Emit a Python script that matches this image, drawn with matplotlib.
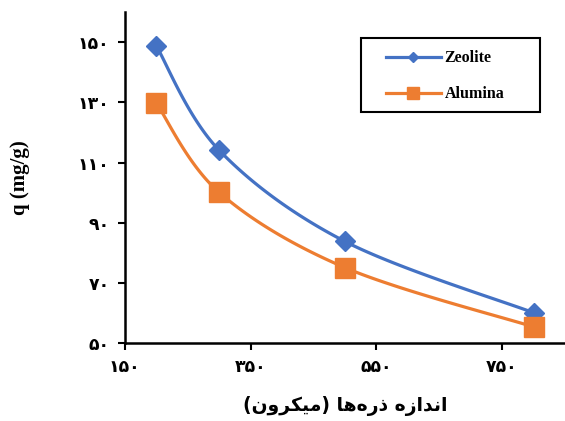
import numpy as np
import matplotlib
matplotlib.use("Agg")
import matplotlib.pyplot as plt
from matplotlib.lines import Line2D
from matplotlib.patches import Rectangle

# particle size (micron) and adsorption capacity q (mg/g)
size = [200, 300, 500, 800]
zeolite = [148.8, 114.1, 83.8, 60.1]
alumina = [129.8, 100.1, 75.1, 55.4]

x_ticks = [150, 350, 550, 750]
y_ticks = [50, 70, 90, 110, 130, 150]

fa_digits = str.maketrans("0123456789", "۰۱۲۳۴۵۶۷۸۹")

def fa(n):
    return str(n).translate(fa_digits)

# "اندازه ذره‌ها (میکرون)" written with presentation forms, visual order
xlabel = ("(" + "\uFEE5\uFEED\uFEAE\uFEDC\uFEF4\uFEE3" + ") "
          + "\uFE8E\uFEEB\uFEE9\uFEAD\uFEAB" + " "
          + "\uFEE9\uFEAF\uFE8D\uFEAA\uFEE7\uFE8D")


def smooth(xs, ys, n=40):
    # excel-like smoothed line: bezier with catmull-rom control points
    p = np.column_stack([xs, ys]).astype(float)
    p = np.vstack([p[0], p, p[-1]])
    out = []
    t = np.linspace(0, 1, n)[:, None]
    for i in range(1, len(p) - 2):
        p0, p1 = p[i], p[i + 1]
        c1 = p0 + (p[i + 1] - p[i - 1]) / 6
        c2 = p1 - (p[i + 2] - p[i]) / 6
        seg = ((1 - t) ** 3) * p0 + 3 * ((1 - t) ** 2) * t * c1 + 3 * (1 - t) * t ** 2 * c2 + t ** 3 * p1
        out.append(seg)
    out = np.vstack(out)
    return out[:, 0], out[:, 1]


blue = "#4472C4"
orange = "#ED7D31"

fig = plt.figure(figsize=(5.65, 4.21), dpi=100)
ax = fig.add_axes([0.221, 0.185, 0.779, 0.786])

sx, sy = smooth(size, zeolite)
ax.plot(sx, sy, color=blue, lw=2.3, solid_capstyle="round")
ax.plot(size, zeolite, ls="none", marker="D", ms=10, color=blue)
sx, sy = smooth(size, alumina)
ax.plot(sx, sy, color=orange, lw=2.3, solid_capstyle="round")
ax.plot(size, alumina, ls="none", marker="s", ms=14, color=orange)

ax.set_xlim(150, 850)
ax.set_ylim(50, 160)
ax.set_xticks(x_ticks)
ax.set_yticks(y_ticks)
ax.set_xticklabels([fa(v) for v in x_ticks], fontsize=12.5, fontweight="bold", family="DejaVu Sans")
ax.set_yticklabels([fa(v) for v in y_ticks], fontsize=12.5, fontweight="bold", family="DejaVu Sans")
ax.tick_params(length=5, width=1.5, pad=6)
for s in ["top", "right"]:
    ax.spines[s].set_visible(False)
for s in ["left", "bottom"]:
    ax.spines[s].set_linewidth(1.8)

ax.set_ylabel("q (mg/g)", fontsize=15, fontweight="bold", family="Liberation Serif", labelpad=34)
ax.set_xlabel(xlabel, fontsize=13.5, fontweight="bold", family="DejaVu Sans", labelpad=14)

# legend box drawn separately so the entries can sit centred inside it
ax.add_patch(Rectangle((0.537, 0.698), 0.406, 0.223, transform=ax.transAxes,
                       facecolor="white", edgecolor="black", lw=1.5, zorder=5))
handles = [
    Line2D([], [], color=blue, lw=2.3, marker="D", ms=5),
    Line2D([], [], color=orange, lw=2.3, marker="s", ms=8),
]
leg = ax.legend(handles, ["Zeolite", "Alumina"], loc="center",
                bbox_to_anchor=(0.728, 0.806), frameon=False,
                prop={"family": "Liberation Serif", "weight": "bold", "size": 11.5},
                handlelength=3.4, handletextpad=0.25, labelspacing=1.25,
                borderpad=0, borderaxespad=0)
leg.set_zorder(6)

fig.savefig("out.png", dpi=100)
